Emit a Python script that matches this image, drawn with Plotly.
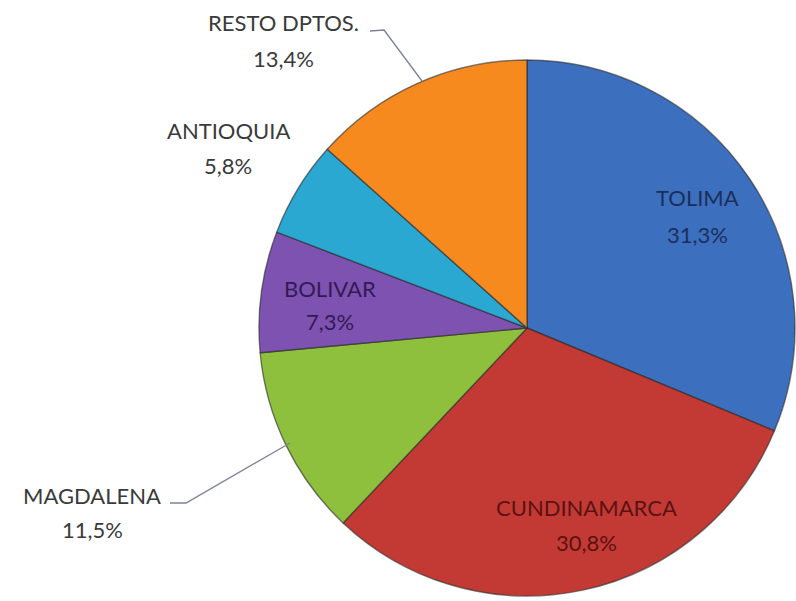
import plotly.graph_objects as go

# Share of production by department (clockwise from 12 o'clock)
departments = ["TOLIMA", "CUNDINAMARCA", "MAGDALENA", "BOLIVAR", "ANTIOQUIA", "RESTO DPTOS."]
shares = [31.3, 30.8, 11.5, 7.3, 5.8, 13.4]
slice_colors = ["#3C6FBE", "#C33A35", "#8EC03E", "#7E52B0", "#2AA8D2", "#F68A1F"]
label_colors = ["#1B2F5C", "#5A1212", "#3A3A3A", "#331A55", "#3A3A3A", "#3A3A3A"]

W, H = 796, 601
cx, cy, r = 527, 328, 268


def px(x):
    return min(max(x / W, 0.0), 1.0)


def py(y):
    return min(max(1 - y / H, 0.0), 1.0)


fig = go.Figure(
    go.Pie(
        labels=departments,
        values=shares,
        sort=False,
        direction="clockwise",
        rotation=0,
        textinfo="none",
        hoverinfo="label+percent",
        marker=dict(colors=slice_colors, line=dict(color="rgba(40,40,40,0.6)", width=1.4)),
        domain=dict(x=[px(cx - r), px(cx + r)], y=[py(cy + r), py(cy - r)]),
        showlegend=False,
    )
)

# label anchor (center x, name line y, value line y) in pixels
label_pos = {
    "TOLIMA": (697, 198, 234),
    "CUNDINAMARCA": (586, 507, 542),
    "MAGDALENA": (92, 495, 529),
    "BOLIVAR": (330, 288, 321),
    "ANTIOQUIA": (228, 130, 165),
    "RESTO DPTOS.": (283, 23, 58),
}

annotations = []
for name, val, col in zip(departments, shares, label_colors):
    x, y1, y2 = label_pos[name]
    pct = f"{val:.1f}".replace(".", ",") + "%"
    for txt, yy in ((name, y1), (pct, y2)):
        annotations.append(
            dict(
                x=px(x), y=py(yy), xref="paper", yref="paper",
                text=txt, showarrow=False, xanchor="center", yanchor="middle",
                font=dict(family="Lato", size=22, color=col),
            )
        )

# leader lines for the outside labels
leaders = [
    [(370, 31), (384, 30), (422, 81)],
    [(170, 503), (186, 503), (290, 443)],
]
shapes = []
for pts in leaders:
    path = "M " + " L ".join(f"{px(x)},{py(y)}" for x, y in pts)
    shapes.append(dict(type="path", xref="paper", yref="paper", path=path,
                       line=dict(color="#7A8296", width=1.3)))

fig.update_layout(
    width=W, height=H,
    margin=dict(l=0, r=0, t=0, b=0),
    paper_bgcolor="white",
    plot_bgcolor="white",
    annotations=annotations,
    shapes=shapes,
)

fig.write_html("out.html")
